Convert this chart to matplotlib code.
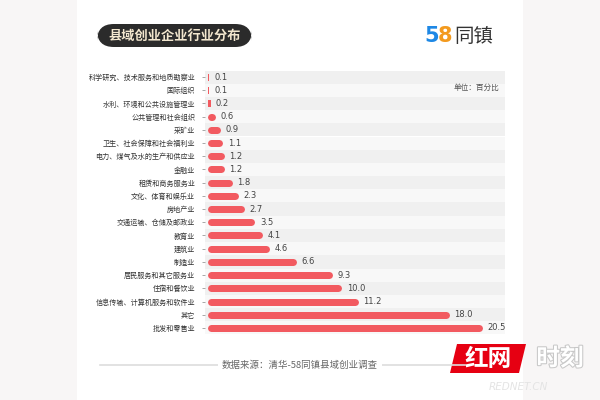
import matplotlib.pyplot as plt
import matplotlib.patheffects as pe
from matplotlib.patches import FancyBboxPatch, Rectangle, Polygon
import numpy as np

plt.rcParams['font.family'] = ['Noto Sans CJK SC', 'DejaVu Sans']

# -----------------------------------------------------------------------------
# Data
# -----------------------------------------------------------------------------
industries = [
    '科学研究、技术服务和地质勘察业', '国际组织', '水利、环境和公共设施管理业',
    '公共管理和社会组织', '采矿业', '卫生、社会保障和社会福利业',
    '电力、煤气及水的生产和供应业', '金融业', '租赁和商务服务业',
    '文化、体育和娱乐业', '房地产业', '交通运输、仓储及邮政业', '教育业',
    '建筑业', '制造业', '居民服务和其它服务业', '住宿和餐饮业',
    '信息传输、计算机服务和软件业', '其它', '批发和零售业',
]
shares = [0.1, 0.1, 0.2, 0.6, 0.9, 1.1, 1.2, 1.2, 1.8, 2.3, 2.7, 3.5, 4.1,
          4.6, 6.6, 9.3, 10.0, 11.2, 18.0, 20.5]

title = '县域创业企业行业分布'
unit_note = '单位：百分比'
source = '数据来源：清华-58同镇县域创业调查'

bar_red = '#f25a60'
outer_bg = '#f8f6f6'

fig = plt.figure(figsize=(6, 4), dpi=100)
fig.patch.set_facecolor(outer_bg)

# white card in the middle
fig.add_artist(Rectangle((77 / 600, 0), 446 / 600, 1, transform=fig.transFigure,
                         facecolor='white', edgecolor='none', zorder=0))

ax = fig.add_axes([205 / 600, 1 - 334.5 / 400, 300 / 600, 264 / 400])
ax.set_facecolor('white')
n = len(industries)
y = np.arange(n)
ax.set_ylim(n - 0.5, -0.5)
xmin, xmax = -0.22, 22.16
ax.set_xlim(xmin, xmax)

# alternating row stripes
for i in y:
    ax.axhspan(i - 0.5, i + 0.5, color='#f0f0f0' if i % 2 == 0 else '#f8f8f8',
               lw=0, zorder=0)

# rounded bars: thick lines with round caps, tiny values as plain rectangles
bar_px = 7.0
row_px = 264 / n
px_per_unit = 300 / (xmax - xmin)
half_h = bar_px / 2 / px_per_unit
lw_pt = bar_px * 72 / 100
for i, v in zip(y, shares):
    if v > 2 * half_h:
        ax.plot([half_h, v - half_h], [i, i], color=bar_red, lw=lw_pt,
                solid_capstyle='round', zorder=2)
    else:
        ax.barh(i, v, height=bar_px / row_px, color=bar_red, zorder=2)
    ax.text(v + 5 / px_per_unit, i, f'{v:.1f}', va='center', ha='left',
            fontsize=6, color='#444444', family=['DejaVu Sans'])

ax.set_yticks(y)
ax.set_yticklabels(industries, fontsize=5.1, color='#333333')
ax.tick_params(axis='y', length=2, width=0.6, color='#999999', pad=5)
ax.set_xticks([])
for s in ax.spines.values():
    s.set_visible(False)

ax.text(0.905, 0.935, unit_note, transform=ax.transAxes, ha='center',
        va='center', fontsize=5.5, color='#555555')

# title pill
fig.add_artist(FancyBboxPatch((97 / 600, 1 - 47 / 400), 155 / 600, 23 / 400,
                              boxstyle='round,pad=0,rounding_size=0.028',
                              mutation_aspect=1.5, transform=fig.transFigure,
                              facecolor='#2b2b2b', edgecolor='none'))
fig.text(174.5 / 600, 1 - 35.5 / 400, title, ha='center', va='center',
         fontsize=9.5, fontweight='bold', color='#f3e7cf')

# logo
fig.text(424 / 600, 1 - 36 / 400, '5', ha='left', va='center', fontsize=15,
         fontweight='bold', color='#1e88e5', family=['DejaVu Sans'])
fig.text(438 / 600, 1 - 36 / 400, '8', ha='left', va='center', fontsize=15,
         fontweight='bold', color='#f39a1e', family=['DejaVu Sans'])
fig.text(454 / 600, 1 - 36 / 400, '同镇', ha='left', va='center', fontsize=14,
         color='#333333')

# source line
fig.add_artist(plt.Line2D([100 / 600, 465 / 600], [1 - 365 / 400] * 2,
                          color='#dddddd', lw=1.2, transform=fig.transFigure))
fig.text(300 / 600, 1 - 365 / 400, source, ha='center', va='center',
         fontsize=6.8, color='#666666',
         bbox=dict(facecolor='white', edgecolor='none', pad=3))

# watermark
fig.add_artist(Polygon([(457 / 600, 1 - 344 / 400), (526 / 600, 1 - 344 / 400),
                        (519 / 600, 1 - 373 / 400), (450 / 600, 1 - 373 / 400)],
                       closed=True, transform=fig.transFigure,
                       facecolor='#e60012', edgecolor='none'))
fig.text(488 / 600, 1 - 358.5 / 400, '红网', ha='center', va='center',
         fontsize=17, fontweight='bold', style='italic', color='white')
fig.text(560 / 600, 1 - 358.5 / 400, '时刻', ha='center', va='center',
         fontsize=17, fontweight='bold', style='italic', color='white',
         path_effects=[pe.withStroke(linewidth=1.5, foreground='#c8c8c8')])
fig.text(518 / 600, 1 - 387 / 400, 'REDNET.CN', ha='center', va='center',
         fontsize=7.5, style='italic', color='#e4e4e4', family=['DejaVu Sans'])

fig.savefig('out.png', dpi=100, facecolor=fig.get_facecolor())
